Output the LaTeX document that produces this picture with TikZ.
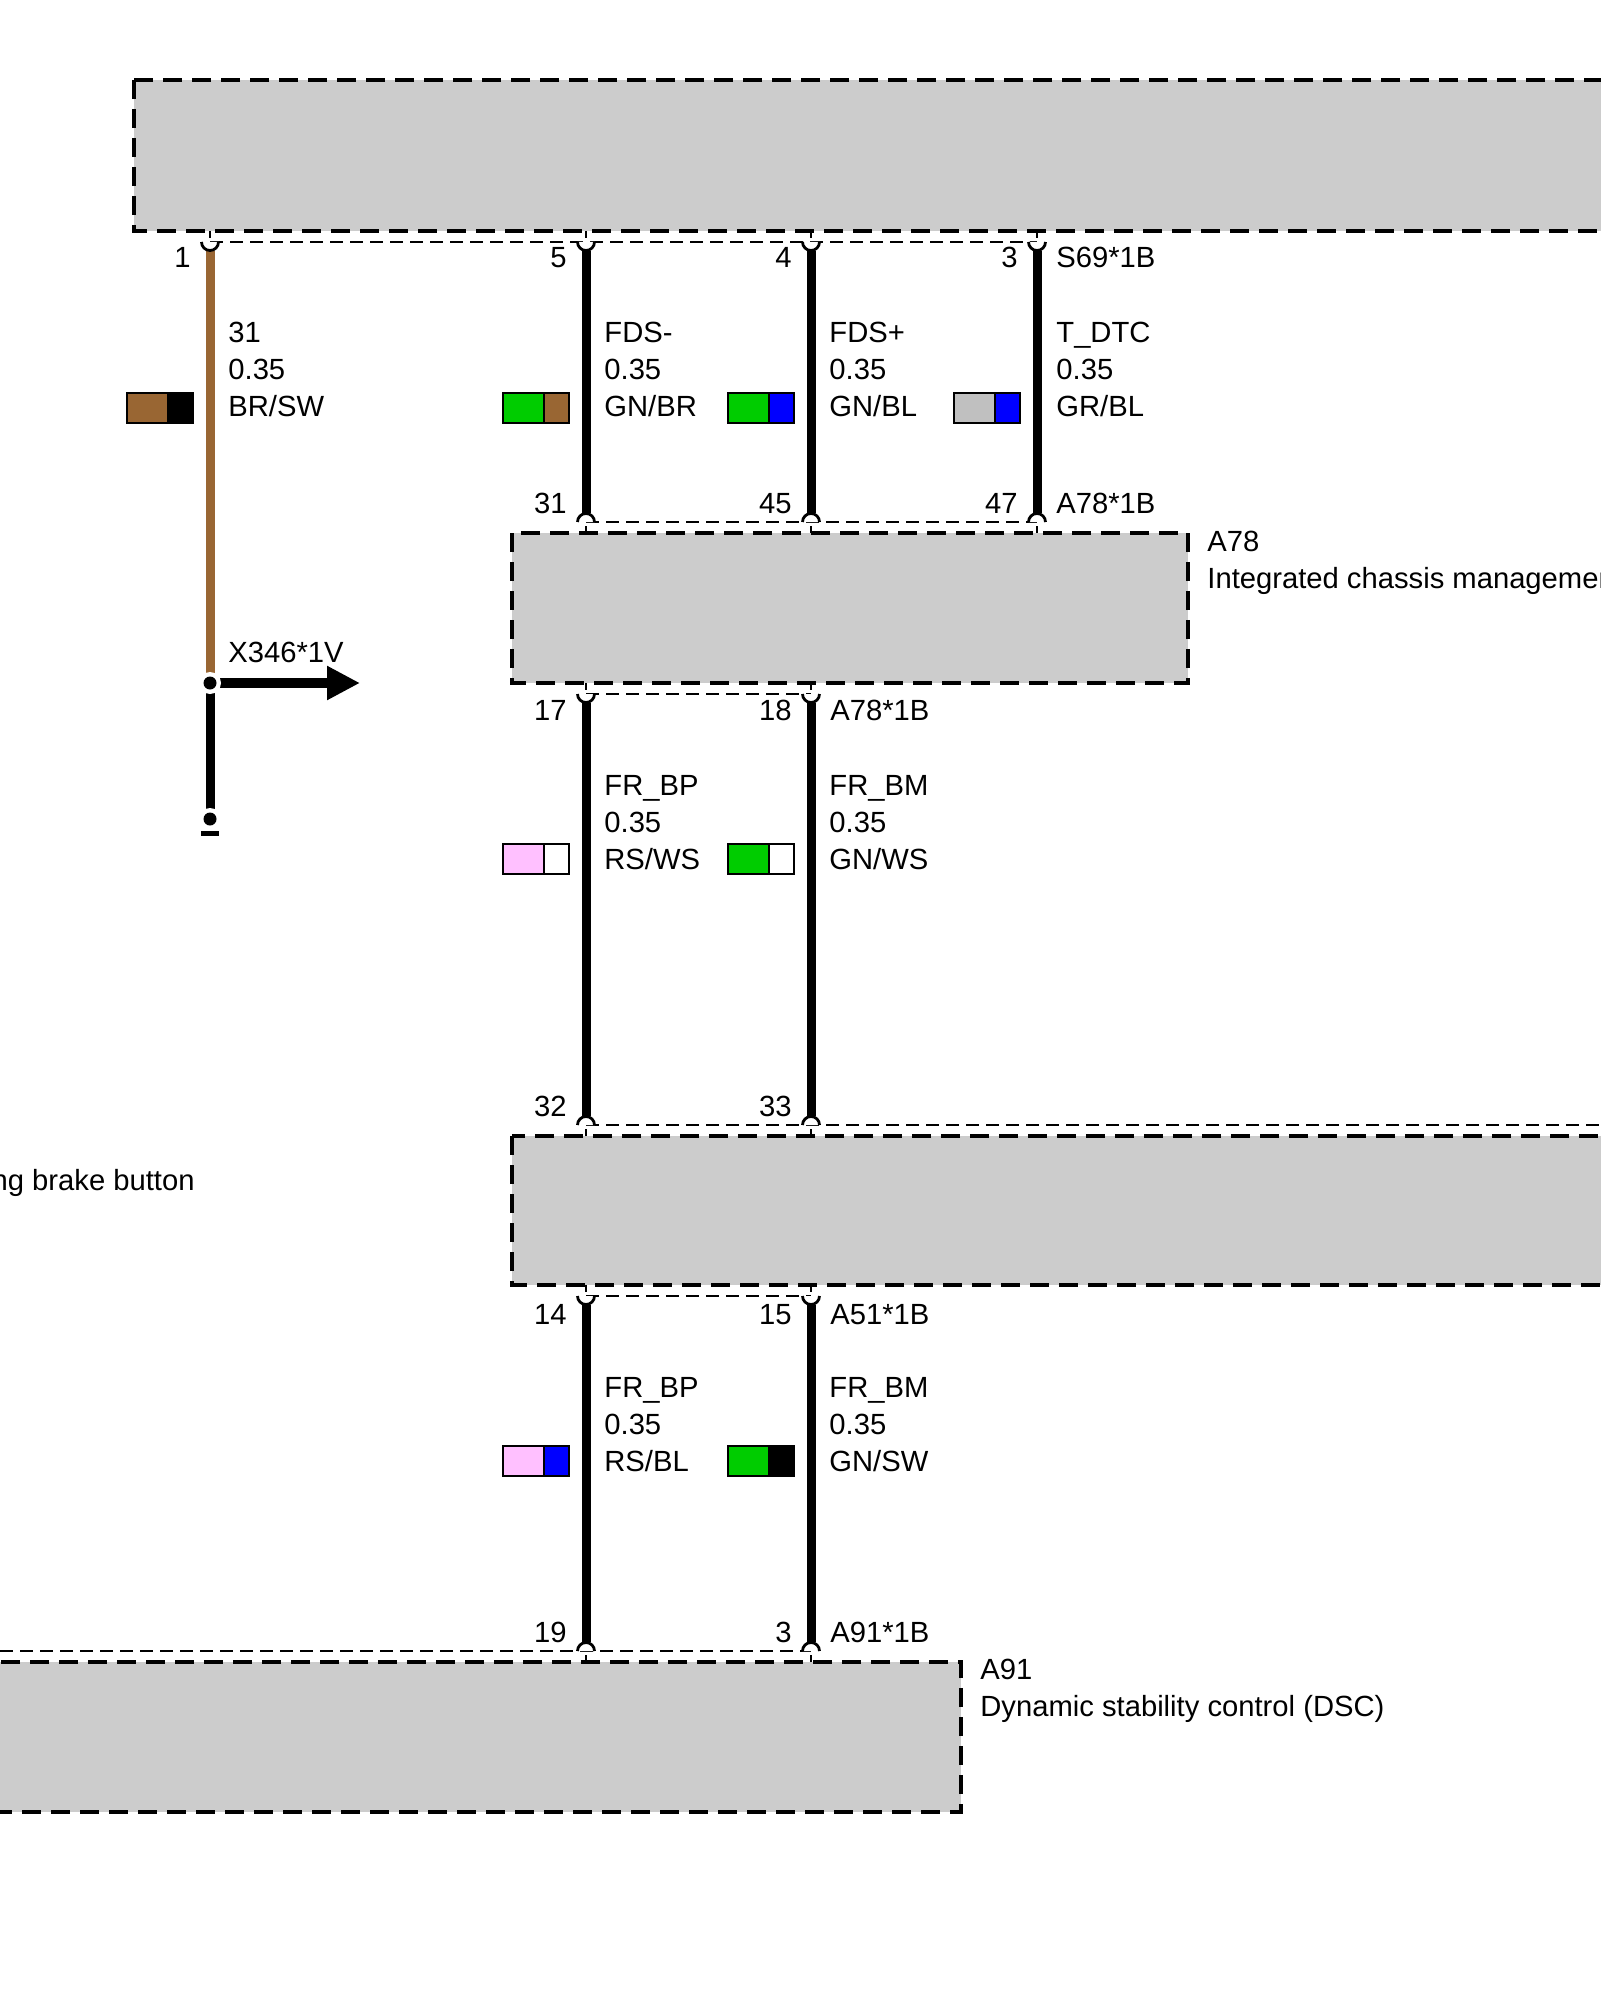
\documentclass[tikz,border=0pt]{standalone}
\usepackage{fontspec}
\setmainfont{Liberation Sans}
\usetikzlibrary{arrows.meta}
\definecolor{boxgray}{HTML}{CCCCCC}
\definecolor{wirebrown}{HTML}{996633}
\definecolor{wiregreen}{HTML}{00CC00}
\definecolor{wireblue}{HTML}{0000FF}
\definecolor{wiregray}{HTML}{C0C0C0}
\definecolor{wirepink}{HTML}{FFC0FF}
\begin{document}
\begin{tikzpicture}[x=0.5pt,y=-0.5pt,
        module/.style={fill=boxgray,draw=black,line width=2.4pt,dash pattern=on 9.5pt off 5pt},
        plugline/.style={draw=black,line width=1.2pt,dash pattern=on 6.5pt off 3.5pt},
        wire/.style={line width=4.5pt},
        pinline/.style={line width=1.4pt},
        swatch/.style={draw=black,line width=1pt},
        txt/.style={inner sep=0pt,font=\fontsize{14.6}{17}\selectfont},
        pinup/.pic={\fill[white] (-8.5,-9) arc[start angle=180,end angle=0,radius=8.5] -- cycle;
            \draw[pinline] (-8.5,-9) arc[start angle=180,end angle=0,radius=8.5];
            \draw[pinline] (0,-20) -- (0,-13);},
        pindown/.pic={\fill[white] (-8.5,9) arc[start angle=180,end angle=360,radius=8.5] -- cycle;
            \draw[pinline] (-8.5,9) arc[start angle=180,end angle=360,radius=8.5];
            \draw[pinline] (0,20) -- (0,13);}]
        \useasboundingbox (0,0) rectangle (1600,2000);

        % control units
        \draw[module] (134,80) rectangle (1660,231);
        \draw[module] (512,533) rectangle (1188,683);
        \draw[module] (512,1136) rectangle (1660,1285);
        \draw[module] (-60,1662) rectangle (961,1812);

        % connector housings
        \draw[plugline] (210,242) -- (1037,242);
        \draw[plugline] (586,522) -- (1037,522);
        \draw[plugline] (586,694) -- (811,694);
        \draw[plugline] (586,1125) -- (1640,1125);
        \draw[plugline] (586,1296) -- (811,1296);
        \draw[plugline] (-40,1651) -- (811,1651);

        % pins
        \coordinate (s1) at (210,251);
        \coordinate (s5) at (586,251);
        \coordinate (s4) at (811,251);
        \coordinate (s3) at (1037,251);
        \coordinate (a31) at (586,513);
        \coordinate (a45) at (811,513);
        \coordinate (a47) at (1037,513);
        \coordinate (a17) at (586,703);
        \coordinate (a18) at (811,703);
        \coordinate (m32) at (586,1116);
        \coordinate (m33) at (811,1116);
        \coordinate (m14) at (586,1305);
        \coordinate (m15) at (811,1305);
        \coordinate (d19) at (586,1642);
        \coordinate (d3) at (811,1642);
        \coordinate (j1) at (210,683);
        \coordinate (t1) at (210,819);
        \coordinate (x1) at (360,683);

        % wires
        \draw[wire,wirebrown] (s1) -- (j1);
        \draw[wire] (s5) -- (a31);
        \draw[wire] (s4) -- (a45);
        \draw[wire] (s3) -- (a47);
        \draw[wire] (a17) -- (m32);
        \draw[wire] (a18) -- (m33);
        \draw[wire] (m14) -- (d19);
        \draw[wire] (m15) -- (d3);
        \draw[wire] (j1) -- (t1);
        \draw[line width=5pt,-{Triangle[length=16.5pt,width=16pt]}] (j1) -- (x1);

        \pic at (s1) {pinup};
        \pic at (s5) {pinup};
        \pic at (s4) {pinup};
        \pic at (s3) {pinup};
        \pic at (a31) {pindown};
        \pic at (a45) {pindown};
        \pic at (a47) {pindown};
        \pic at (a17) {pinup};
        \pic at (a18) {pinup};
        \pic at (m32) {pindown};
        \pic at (m33) {pindown};
        \pic at (m14) {pinup};
        \pic at (m15) {pinup};
        \pic at (d19) {pindown};
        \pic at (d3) {pindown};

        % splice and ground end
        \fill[white] (j1) circle[radius=11];
        \fill (j1) circle[radius=6.5];
        \fill[white] (t1) circle[radius=11];
        \fill (t1) circle[radius=6.5];
        \draw[line width=2.5pt] (201,833) -- (219,833);

        % pin numbers
        \node[txt,anchor=base east] (n1) at (191,268) {1};
        \node[txt,anchor=base east] (n5) at (567,268) {5};
        \node[txt,anchor=base east] (n4) at (792,268) {4};
        \node[txt,anchor=base east] (n3) at (1018,268) {3};
        \node[txt,anchor=base east] (n31) at (567,513) {31};
        \node[txt,anchor=base east] (n45) at (792,513) {45};
        \node[txt,anchor=base east] (n47) at (1018,513) {47};
        \node[txt,anchor=base east] (n17) at (567,720) {17};
        \node[txt,anchor=base east] (n18) at (792,720) {18};
        \node[txt,anchor=base east] (n32) at (567,1116) {32};
        \node[txt,anchor=base east] (n33) at (792,1116) {33};
        \node[txt,anchor=base east] (n14) at (567,1324) {14};
        \node[txt,anchor=base east] (n15) at (792,1324) {15};
        \node[txt,anchor=base east] (n19) at (567,1642) {19};
        \node[txt,anchor=base east] (nd3) at (792,1642) {3};

        % connector names
        \node[txt,anchor=base west] (c1) at (1056,268) {S69*1B};
        \node[txt,anchor=base west] (c2) at (1056,513) {A78*1B};
        \node[txt,anchor=base west] (c3) at (830,720) {A78*1B};
        \node[txt,anchor=base west] (c4) at (830,1324) {A51*1B};
        \node[txt,anchor=base west] (c5) at (830,1642) {A91*1B};
        \node[txt,anchor=base west] (c6) at (228,662) {X346*1V};

        % wire data
        \node[txt,anchor=base west] (w1a) at (228,343) {31};
        \node[txt,anchor=base west] (w1b) at (228,380) {0.35};
        \node[txt,anchor=base west] (w1c) at (228,417) {BR/SW};
        \node[txt,anchor=base west] (w5a) at (604,343) {FDS-};
        \node[txt,anchor=base west] (w5b) at (604,380) {0.35};
        \node[txt,anchor=base west] (w5c) at (604,417) {GN/BR};
        \node[txt,anchor=base west] (w4a) at (829,343) {FDS+};
        \node[txt,anchor=base west] (w4b) at (829,380) {0.35};
        \node[txt,anchor=base west] (w4c) at (829,417) {GN/BL};
        \node[txt,anchor=base west] (w3a) at (1056,343) {T\_DTC};
        \node[txt,anchor=base west] (w3b) at (1056,380) {0.35};
        \node[txt,anchor=base west] (w3c) at (1056,417) {GR/BL};
        \node[txt,anchor=base west] (w17a) at (604,795) {FR\_BP};
        \node[txt,anchor=base west] (w17b) at (604,832) {0.35};
        \node[txt,anchor=base west] (w17c) at (604,869) {RS/WS};
        \node[txt,anchor=base west] (w18a) at (829,795) {FR\_BM};
        \node[txt,anchor=base west] (w18b) at (829,832) {0.35};
        \node[txt,anchor=base west] (w18c) at (829,869) {GN/WS};
        \node[txt,anchor=base west] (w14a) at (604,1397) {FR\_BP};
        \node[txt,anchor=base west] (w14b) at (604,1434) {0.35};
        \node[txt,anchor=base west] (w14c) at (604,1471) {RS/BL};
        \node[txt,anchor=base west] (w15a) at (829,1397) {FR\_BM};
        \node[txt,anchor=base west] (w15b) at (829,1434) {0.35};
        \node[txt,anchor=base west] (w15c) at (829,1471) {GN/SW};

        % colour codes
        \filldraw[swatch,fill=wirebrown] (127,393) rectangle (168,423);
        \filldraw[swatch,fill=black] (168,393) rectangle (193,423);
        \filldraw[swatch,fill=wiregreen] (503,393) rectangle (544,423);
        \filldraw[swatch,fill=wirebrown] (544,393) rectangle (569,423);
        \filldraw[swatch,fill=wiregreen] (728,393) rectangle (769,423);
        \filldraw[swatch,fill=wireblue] (769,393) rectangle (794,423);
        \filldraw[swatch,fill=wiregray] (954,393) rectangle (995,423);
        \filldraw[swatch,fill=wireblue] (995,393) rectangle (1020,423);
        \filldraw[swatch,fill=wirepink] (503,844) rectangle (544,874);
        \filldraw[swatch,fill=white] (544,844) rectangle (569,874);
        \filldraw[swatch,fill=wiregreen] (728,844) rectangle (769,874);
        \filldraw[swatch,fill=white] (769,844) rectangle (794,874);
        \filldraw[swatch,fill=wirepink] (503,1446) rectangle (544,1476);
        \filldraw[swatch,fill=wireblue] (544,1446) rectangle (569,1476);
        \filldraw[swatch,fill=wiregreen] (728,1446) rectangle (769,1476);
        \filldraw[swatch,fill=black] (769,1446) rectangle (794,1476);

        % component names
        \node[txt,anchor=base west] (u1) at (1207,551) {A78};
        \node[txt,anchor=base west] (u2) at (1207,588) {Integrated chassis management};
        \node[txt,anchor=base west] (u3) at (980,1679) {A91};
        \node[txt,anchor=base west] (u4) at (980,1716) {Dynamic stability control (DSC)};
        \node[txt,anchor=base east] (u5) at (195,1190) {Parking brake button};
    \end{tikzpicture}
\end{document}
